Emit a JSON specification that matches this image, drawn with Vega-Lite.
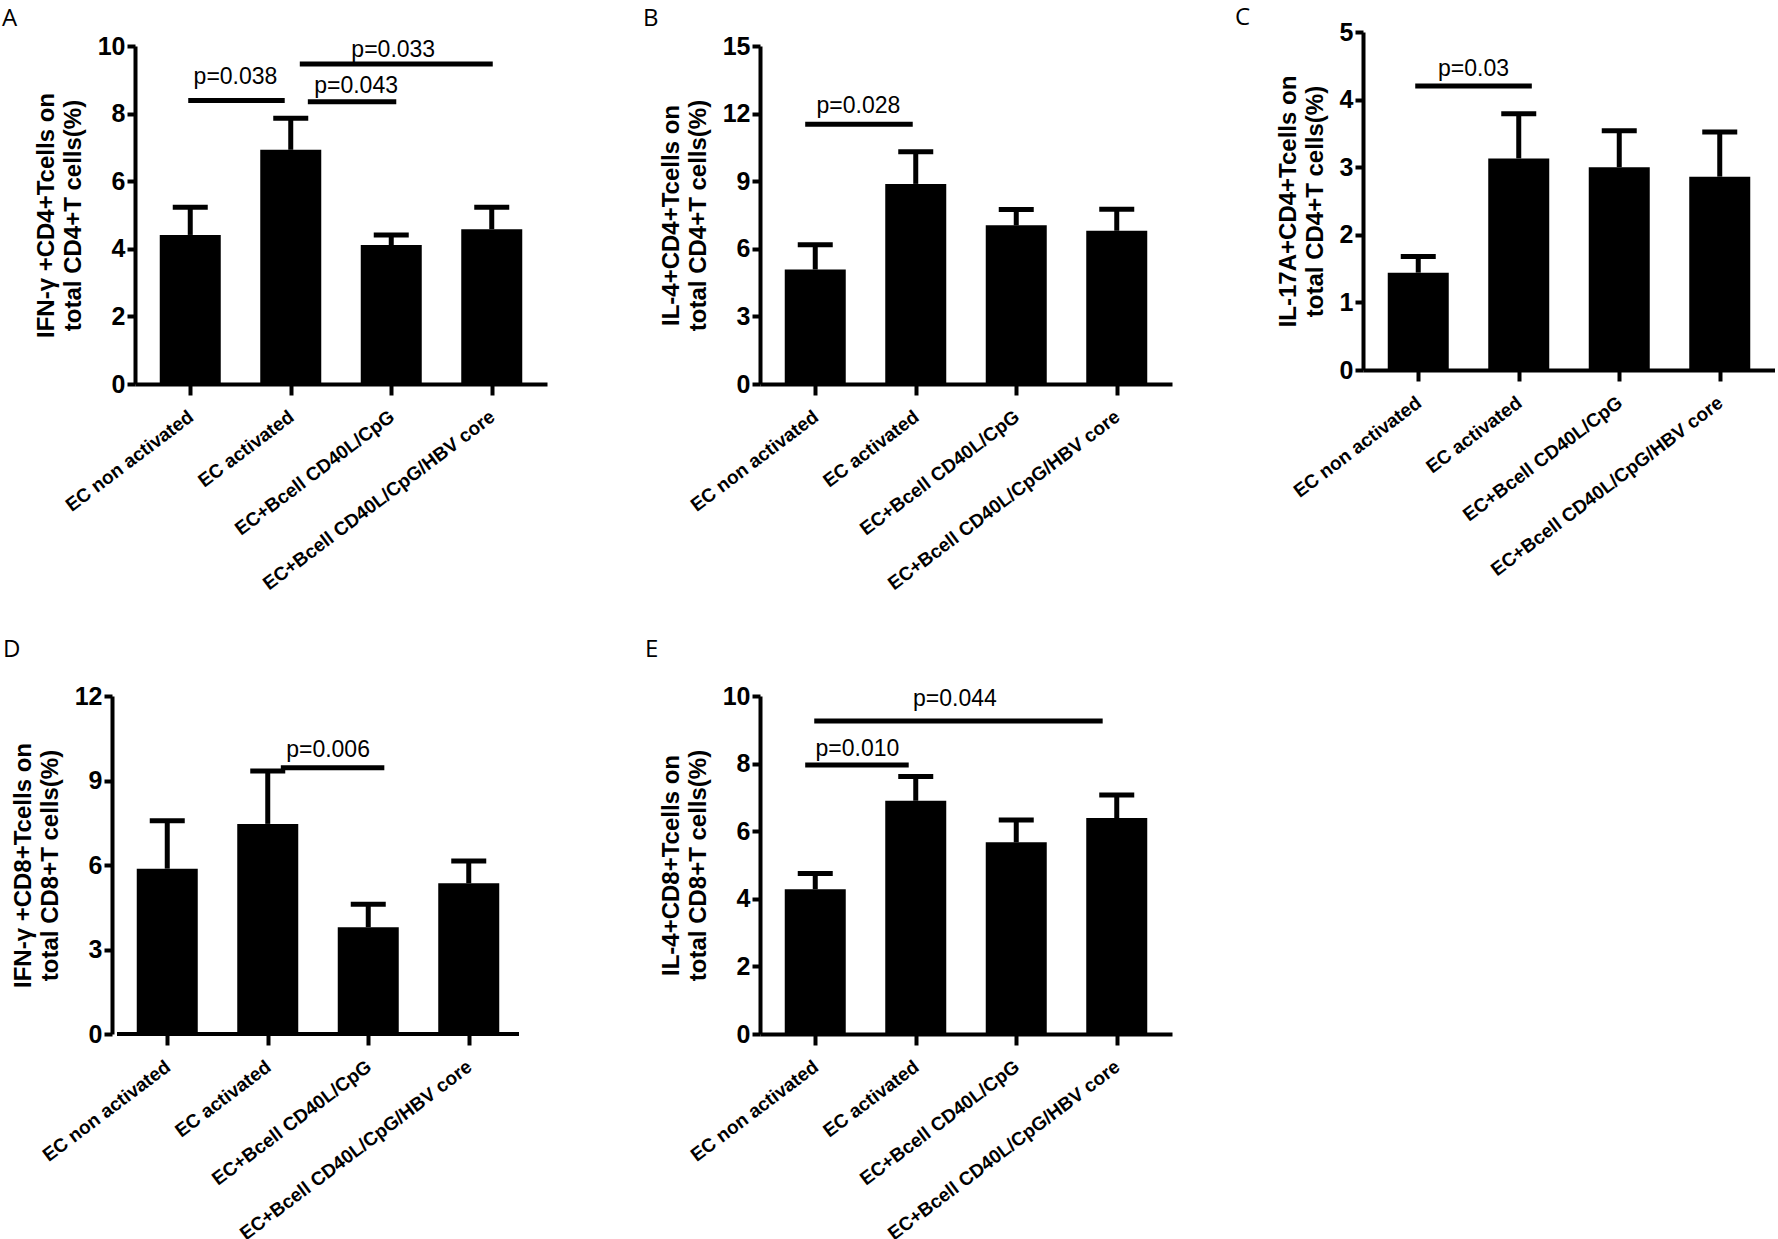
{
  "$schema": "https://vega.github.io/schema/vega-lite/v6.json",
  "background": "white",
  "padding": {"left": 2, "top": 6, "right": 0, "bottom": 0},
  "datasets": {
    "a_bars": [
      {"x": 0, "y": 4.41, "hi": 5.23},
      {"x": 1, "y": 6.93, "hi": 7.86},
      {"x": 2, "y": 4.11, "hi": 4.41},
      {"x": 3, "y": 4.58, "hi": 5.23}
    ],
    "a_sig": [
      {"x": -0.02, "x2": 0.94, "y": 8.39},
      {"x": 1.17, "x2": 2.05, "y": 8.35},
      {"x": 1.09, "x2": 3.01, "y": 9.47}
    ],
    "a_p": [
      {"x": 0.45, "y": 9.09, "t": "p=0.038"},
      {"x": 1.65, "y": 8.83, "t": "p=0.043"},
      {"x": 2.02, "y": 9.89, "t": "p=0.033"}
    ],
    "b_bars": [
      {"x": 0, "y": 5.08, "hi": 6.18},
      {"x": 1, "y": 8.88, "hi": 10.31},
      {"x": 2, "y": 7.04, "hi": 7.74},
      {"x": 3, "y": 6.8, "hi": 7.75}
    ],
    "b_sig": [{"x": -0.1, "x2": 0.97, "y": 11.53}],
    "b_p": [{"x": 0.43, "y": 12.33, "t": "p=0.028"}],
    "c_bars": [
      {"x": 0, "y": 1.44, "hi": 1.68},
      {"x": 1, "y": 3.13, "hi": 3.79},
      {"x": 2, "y": 3.0, "hi": 3.54},
      {"x": 3, "y": 2.86, "hi": 3.52}
    ],
    "c_sig": [{"x": -0.03, "x2": 1.13, "y": 4.2}],
    "c_p": [{"x": 0.55, "y": 4.45, "t": "p=0.03"}],
    "d_bars": [
      {"x": 0, "y": 5.87, "hi": 7.57},
      {"x": 1, "y": 7.46, "hi": 9.34},
      {"x": 2, "y": 3.79, "hi": 4.61},
      {"x": 3, "y": 5.35, "hi": 6.14}
    ],
    "d_sig": [{"x": 1.13, "x2": 2.16, "y": 9.45}],
    "d_p": [{"x": 1.6, "y": 10.1, "t": "p=0.006"}],
    "d_axis": [{"x": -0.5, "x2": 3.5, "y": 0}],
    "e_bars": [
      {"x": 0, "y": 4.28, "hi": 4.75},
      {"x": 1, "y": 6.9, "hi": 7.62},
      {"x": 2, "y": 5.67, "hi": 6.33},
      {"x": 3, "y": 6.39, "hi": 7.07}
    ],
    "e_sig": [
      {"x": -0.1, "x2": 0.93, "y": 7.96},
      {"x": -0.01, "x2": 2.86, "y": 9.26}
    ],
    "e_p": [
      {"x": 0.42, "y": 8.43, "t": "p=0.010"},
      {"x": 1.39, "y": 9.91, "t": "p=0.044"}
    ]
  },
  "vconcat": [
    {
      "hconcat": [
        {
          "hconcat": [
            {
              "width": 412, "height": 338,
              "title": {"text": "A", "dx": -133, "offset": 3},
              "layer": [
                {
                  "data": {"name": "a_bars"},
                  "mark": {"type": "bar", "size": 61, "color": "black", "orient": "vertical"},
                  "encoding": {
                    "x": {"field": "x", "type": "quantitative", "scale": {"domain": [-0.5, 3.5], "nice": false, "zero": false},
                      "axis": {"title": null, "values": [0, 1, 2, 3], "labelExpr": "['EC non activated','EC activated','EC+Bcell CD40L/CpG','EC+Bcell CD40L/CpG/HBV core'][datum.value]"}},
                    "y": {"field": "y", "type": "quantitative", "scale": {"domain": [0, 10], "nice": false},
                      "axis": {"title": ["IFN-γ +CD4+Tcells on", "total CD4+T cells(%)"], "values": [0, 2, 4, 6, 8, 10]}}
                  }
                },
                {
                  "data": {"name": "a_bars"},
                  "mark": {"type": "rule", "strokeWidth": 5, "color": "black"},
                  "encoding": {
                    "x": {"field": "x", "type": "quantitative"},
                    "y": {"field": "y", "type": "quantitative"},
                    "y2": {"field": "hi"}
                  }
                },
                {
                  "data": {"name": "a_bars"},
                  "mark": {"type": "tick", "orient": "horizontal", "size": 35, "thickness": 5, "color": "black", "opacity": 1},
                  "encoding": {
                    "x": {"field": "x", "type": "quantitative"},
                    "y": {"field": "hi", "type": "quantitative"}
                  }
                },
                {
                  "data": {"name": "a_sig"},
                  "mark": {"type": "rule", "strokeWidth": 5, "color": "black"},
                  "encoding": {
                    "x": {"field": "x", "type": "quantitative"},
                    "x2": {"field": "x2"},
                    "y": {"field": "y", "type": "quantitative"}
                  }
                },
                {
                  "data": {"name": "a_p"},
                  "mark": {"type": "text", "font": "Liberation Sans", "fontSize": 23, "baseline": "middle", "align": "center", "color": "black"},
                  "encoding": {
                    "x": {"field": "x", "type": "quantitative"},
                    "y": {"field": "y", "type": "quantitative"},
                    "text": {"field": "t"}
                  }
                }
              ]
            },
            {
              "width": 412, "height": 338,
              "title": {"text": "B", "dx": -117, "offset": 3},
              "layer": [
                {
                  "data": {"name": "b_bars"},
                  "mark": {"type": "bar", "size": 61, "color": "black", "orient": "vertical"},
                  "encoding": {
                    "x": {"field": "x", "type": "quantitative", "scale": {"domain": [-0.5, 3.5], "nice": false, "zero": false},
                      "axis": {"title": null, "values": [0, 1, 2, 3], "labelExpr": "['EC non activated','EC activated','EC+Bcell CD40L/CpG','EC+Bcell CD40L/CpG/HBV core'][datum.value]"}},
                    "y": {"field": "y", "type": "quantitative", "scale": {"domain": [0, 15], "nice": false},
                      "axis": {"title": ["IL-4+CD4+Tcells on", "total CD4+T cells(%)"], "values": [0, 3, 6, 9, 12, 15]}}
                  }
                },
                {
                  "data": {"name": "b_bars"},
                  "mark": {"type": "rule", "strokeWidth": 5, "color": "black"},
                  "encoding": {
                    "x": {"field": "x", "type": "quantitative"},
                    "y": {"field": "y", "type": "quantitative"},
                    "y2": {"field": "hi"}
                  }
                },
                {
                  "data": {"name": "b_bars"},
                  "mark": {"type": "tick", "orient": "horizontal", "size": 35, "thickness": 5, "color": "black", "opacity": 1},
                  "encoding": {
                    "x": {"field": "x", "type": "quantitative"},
                    "y": {"field": "hi", "type": "quantitative"}
                  }
                },
                {
                  "data": {"name": "b_sig"},
                  "mark": {"type": "rule", "strokeWidth": 5, "color": "black"},
                  "encoding": {
                    "x": {"field": "x", "type": "quantitative"},
                    "x2": {"field": "x2"},
                    "y": {"field": "y", "type": "quantitative"}
                  }
                },
                {
                  "data": {"name": "b_p"},
                  "mark": {"type": "text", "font": "Liberation Sans", "fontSize": 23, "baseline": "middle", "align": "center", "color": "black"},
                  "encoding": {
                    "x": {"field": "x", "type": "quantitative"},
                    "y": {"field": "y", "type": "quantitative"},
                    "text": {"field": "t"}
                  }
                }
              ]
            }
          ],
          "spacing": 96
        },
        {
          "width": 412, "height": 324,
          "title": {"text": "C", "dx": -128, "offset": -10},
          "layer": [
            {
              "data": {"name": "c_bars"},
              "mark": {"type": "bar", "size": 61, "color": "black", "orient": "vertical"},
              "encoding": {
                "x": {"field": "x", "type": "quantitative", "scale": {"domain": [-0.5, 3.5], "nice": false, "zero": false},
                  "axis": {"title": null, "values": [0, 1, 2, 3], "labelExpr": "['EC non activated','EC activated','EC+Bcell CD40L/CpG','EC+Bcell CD40L/CpG/HBV core'][datum.value]"}},
                "y": {"field": "y", "type": "quantitative", "scale": {"domain": [0, 5], "nice": false, "range": [324, -14]},
                  "axis": {"title": ["IL-17A+CD4+Tcells on", "total CD4+T cells(%)"], "values": [0, 1, 2, 3, 4, 5]}}
              }
            },
            {
              "data": {"name": "c_bars"},
              "mark": {"type": "rule", "strokeWidth": 5, "color": "black"},
              "encoding": {
                "x": {"field": "x", "type": "quantitative"},
                "y": {"field": "y", "type": "quantitative"},
                "y2": {"field": "hi"}
              }
            },
            {
              "data": {"name": "c_bars"},
              "mark": {"type": "tick", "orient": "horizontal", "size": 35, "thickness": 5, "color": "black", "opacity": 1},
              "encoding": {
                "x": {"field": "x", "type": "quantitative"},
                "y": {"field": "hi", "type": "quantitative"}
              }
            },
            {
              "data": {"name": "c_sig"},
              "mark": {"type": "rule", "strokeWidth": 5, "color": "black"},
              "encoding": {
                "x": {"field": "x", "type": "quantitative"},
                "x2": {"field": "x2"},
                "y": {"field": "y", "type": "quantitative"}
              }
            },
            {
              "data": {"name": "c_p"},
              "mark": {"type": "text", "font": "Liberation Sans", "fontSize": 23, "baseline": "middle", "align": "center", "color": "black"},
              "encoding": {
                "x": {"field": "x", "type": "quantitative"},
                "y": {"field": "y", "type": "quantitative"},
                "text": {"field": "t"}
              }
            }
          ]
        }
      ],
      "spacing": 63
    },
    {
      "hconcat": [
        {
          "width": 389, "height": 338,
          "title": {"text": "D", "dx": -132, "offset": 22},
          "layer": [
            {
              "data": {"name": "d_bars"},
              "mark": {"type": "bar", "size": 61, "color": "black", "orient": "vertical"},
              "encoding": {
                "x": {"field": "x", "type": "quantitative", "scale": {"domain": [-0.5, 3.5], "nice": false, "zero": false, "range": [-23, 389]},
                  "axis": {"title": null, "domain": false, "values": [0, 1, 2, 3], "labelExpr": "['EC non activated','EC activated','EC+Bcell CD40L/CpG','EC+Bcell CD40L/CpG/HBV core'][datum.value]"}},
                "y": {"field": "y", "type": "quantitative", "scale": {"domain": [0, 12], "nice": false},
                  "axis": {"title": ["IFN-γ +CD8+Tcells on", "total CD8+T cells(%)"], "values": [0, 3, 6, 9, 12], "offset": 23}}
              }
            },
            {
              "data": {"name": "d_axis"},
              "mark": {"type": "rule", "strokeWidth": 4, "color": "black"},
              "encoding": {
                "x": {"field": "x", "type": "quantitative"},
                "x2": {"field": "x2"},
                "y": {"field": "y", "type": "quantitative"}
              }
            },
            {
              "data": {"name": "d_bars"},
              "mark": {"type": "rule", "strokeWidth": 5, "color": "black"},
              "encoding": {
                "x": {"field": "x", "type": "quantitative"},
                "y": {"field": "y", "type": "quantitative"},
                "y2": {"field": "hi"}
              }
            },
            {
              "data": {"name": "d_bars"},
              "mark": {"type": "tick", "orient": "horizontal", "size": 35, "thickness": 5, "color": "black", "opacity": 1},
              "encoding": {
                "x": {"field": "x", "type": "quantitative"},
                "y": {"field": "hi", "type": "quantitative"}
              }
            },
            {
              "data": {"name": "d_sig"},
              "mark": {"type": "rule", "strokeWidth": 5, "color": "black"},
              "encoding": {
                "x": {"field": "x", "type": "quantitative"},
                "x2": {"field": "x2"},
                "y": {"field": "y", "type": "quantitative"}
              }
            },
            {
              "data": {"name": "d_p"},
              "mark": {"type": "text", "font": "Liberation Sans", "fontSize": 23, "baseline": "middle", "align": "center", "color": "black"},
              "encoding": {
                "x": {"field": "x", "type": "quantitative"},
                "y": {"field": "y", "type": "quantitative"},
                "text": {"field": "t"}
              }
            }
          ]
        },
        {
          "width": 412, "height": 338,
          "title": {"text": "E", "dx": -115, "offset": 22},
          "layer": [
            {
              "data": {"name": "e_bars"},
              "mark": {"type": "bar", "size": 61, "color": "black", "orient": "vertical"},
              "encoding": {
                "x": {"field": "x", "type": "quantitative", "scale": {"domain": [-0.5, 3.5], "nice": false, "zero": false},
                  "axis": {"title": null, "values": [0, 1, 2, 3], "labelExpr": "['EC non activated','EC activated','EC+Bcell CD40L/CpG','EC+Bcell CD40L/CpG/HBV core'][datum.value]"}},
                "y": {"field": "y", "type": "quantitative", "scale": {"domain": [0, 10], "nice": false},
                  "axis": {"title": ["IL-4+CD8+Tcells on", "total CD8+T cells(%)"], "values": [0, 2, 4, 6, 8, 10]}}
              }
            },
            {
              "data": {"name": "e_bars"},
              "mark": {"type": "rule", "strokeWidth": 5, "color": "black"},
              "encoding": {
                "x": {"field": "x", "type": "quantitative"},
                "y": {"field": "y", "type": "quantitative"},
                "y2": {"field": "hi"}
              }
            },
            {
              "data": {"name": "e_bars"},
              "mark": {"type": "tick", "orient": "horizontal", "size": 35, "thickness": 5, "color": "black", "opacity": 1},
              "encoding": {
                "x": {"field": "x", "type": "quantitative"},
                "y": {"field": "hi", "type": "quantitative"}
              }
            },
            {
              "data": {"name": "e_sig"},
              "mark": {"type": "rule", "strokeWidth": 5, "color": "black"},
              "encoding": {
                "x": {"field": "x", "type": "quantitative"},
                "x2": {"field": "x2"},
                "y": {"field": "y", "type": "quantitative"}
              }
            },
            {
              "data": {"name": "e_p"},
              "mark": {"type": "text", "font": "Liberation Sans", "fontSize": 23, "baseline": "middle", "align": "center", "color": "black"},
              "encoding": {
                "x": {"field": "x", "type": "quantitative"},
                "y": {"field": "y", "type": "quantitative"},
                "text": {"field": "t"}
              }
            }
          ]
        }
      ],
      "spacing": 98
    }
  ],
  "spacing": 44,
  "config": {
    "view": {"stroke": null},
    "font": "Liberation Sans",
    "title": {"font": "Open Sans", "fontSize": 24, "fontWeight": "normal", "anchor": "start", "frame": "group", "color": "black"},
    "axis": {
      "grid": false,
      "domainColor": "black", "domainWidth": 4,
      "tickColor": "black", "tickWidth": 4,
      "labelColor": "black", "labelFont": "Liberation Sans", "labelFontWeight": "bold",
      "titleColor": "black", "titleFont": "Liberation Sans", "titleFontWeight": "bold",
      "labelFlush": false, "labelOverlap": false, "labelLimit": 600, "titleLimit": 1000
    },
    "axisY": {"labelFontSize": 25, "format": "d", "tickSize": 8, "labelPadding": 2, "titleFontSize": 24, "titleLineHeight": 27, "titlePadding": 12},
    "axisX": {"labelFontSize": 19, "labelAngle": -37, "tickSize": 11, "labelPadding": 12, "labelOffset": -5}
  }
}
